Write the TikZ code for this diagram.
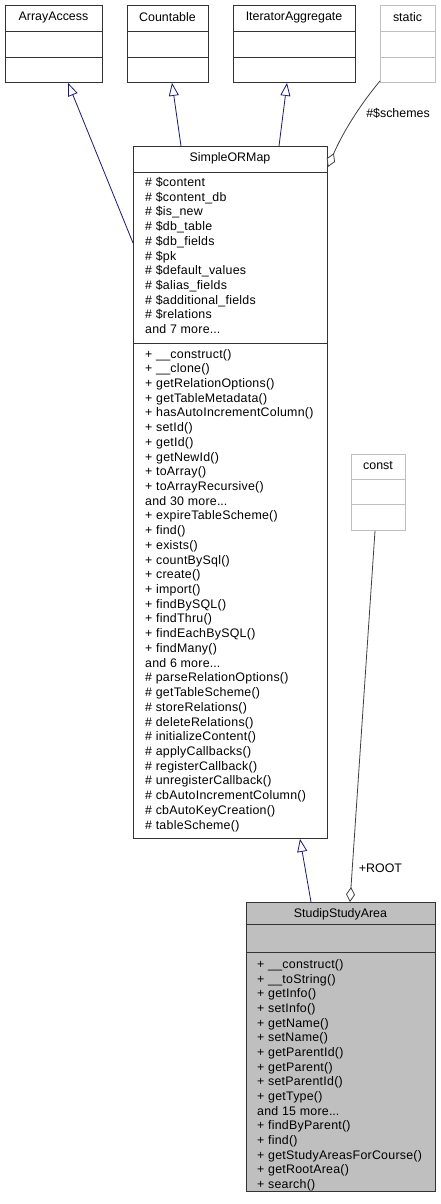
\documentclass[tikz,border=0pt]{standalone}
\usepackage{fontspec}
\setmainfont{Liberation Sans}
\newfontfamily\memberfont[LetterSpace=2]{Liberation Sans}
\usetikzlibrary{arrows.meta}
\definecolor{edgeblue}{HTML}{191970}
\definecolor{edgegrey}{HTML}{404040}
\definecolor{boxgrey}{HTML}{BFBFBF}
\definecolor{lightline}{HTML}{BFBFBF}
\newcommand\mydots{.\kern0pt.\kern0pt.}
\tikzset{
  cls/.style={draw=black!80, line width=0.9pt, inner sep=0pt, anchor=north west},
  ghost/.style={draw=lightline, line width=0.9pt, inner sep=0pt, anchor=north west},
  divider/.style={draw=black!80, line width=0.9pt},
  ghostdiv/.style={draw=lightline, line width=0.9pt},
  ttl/.style={inner sep=0pt, anchor=center},
  member/.style={inner sep=0pt, anchor=base west, font=\memberfont\fontsize{12.4}{14}\selectfont},
  lbl/.style={inner sep=0pt, anchor=center},
  inh/.style={draw=edgeblue, line width=0.8pt, -{Triangle[length=13pt,width=10pt,fill=white]}},
  agg/.style={draw=edgegrey, line width=0.8pt, -{Diamond[length=15pt,width=9pt,fill=white]}}
}
\begin{document}
\begin{tikzpicture}[x=1pt,y=-1pt,font=\fontsize{12.4}{14}\selectfont]
\useasboundingbox (0,0) rectangle (441,1204);

% ArrayAccess
\node[cls, minimum width=97pt, minimum height=77pt] (aa) at (5,5) {};
\draw[divider] (5,31) -- (102,31);
\draw[divider] (5,57) -- (102,57);
\node[ttl] (aat) at (53.5,17.5) {ArrayAccess};

% Countable
\node[cls, minimum width=81pt, minimum height=77pt] (cnt) at (127,5) {};
\draw[divider] (127,31) -- (208,31);
\draw[divider] (127,57) -- (208,57);
\node[ttl] (cntt) at (167.5,17.5) {Countable};

% IteratorAggregate
\node[cls, minimum width=122pt, minimum height=77pt] (ia) at (233,5) {};
\draw[divider] (233,31) -- (355,31);
\draw[divider] (233,57) -- (355,57);
\node[ttl] (iat) at (294,17.5) {IteratorAggregate};

% static
\node[ghost, minimum width=55pt, minimum height=77pt] (st) at (380,5) {};
\draw[ghostdiv] (380,31) -- (435,31);
\draw[ghostdiv] (380,57) -- (435,57);
\node[ttl] (stt) at (407.5,17.5) {static};

% SimpleORMap
\node[cls, minimum width=194pt, minimum height=692pt] (som) at (133,146) {};
\draw[divider] (133,172) -- (327,172);
\draw[divider] (133,343) -- (327,343);
\node[ttl] (somt) at (230,158.5) {SimpleORMap};
\foreach \t [count=\i] in {\# \$content, \# \$content\_db, \# \$is\_new, \# \$db\_table, \# \$db\_fields, \# \$pk, \# \$default\_values, \# \$alias\_fields, \# \$additional\_fields, \# \$relations, and 7 more\mydots}
  \node[member] (soma\i) at (145,{186.5+14.7*(\i-1)}) {\t};
\foreach \t [count=\i] in {+ \_\_construct(), + \_\_clone(), + getRelationOptions(), + getTableMetadata(), + hasAutoIncrementColumn(), + setId(), + getId(), + getNewId(), + toArray(), + toArrayRecursive(), and 30 more\mydots, + expireTableScheme(), + find(), + exists(), + countBySql(), + create(), + import(), + findBySQL(), + findThru(), + findEachBySQL(), + findMany(), and 6 more\mydots, \# parseRelationOptions(), \# getTableScheme(), \# storeRelations(), \# deleteRelations(), \# initializeContent(), \# applyCallbacks(), \# registerCallback(), \# unregisterCallback(), \# cbAutoIncrementColumn(), \# cbAutoKeyCreation(), \# tableScheme()}
  \node[member] (somm\i) at (145,{358+14.72*(\i-1)}) {\t};

% const
\node[ghost, minimum width=54pt, minimum height=76pt] (cst) at (351,454) {};
\draw[ghostdiv] (351,479) -- (405,479);
\draw[ghostdiv] (351,504) -- (405,504);
\node[ttl] (cstt) at (378,466) {const};

% StudipStudyArea
\node[cls, fill=boxgrey, minimum width=189pt, minimum height=289pt] (ssa) at (246,902) {};
\draw[divider] (246,924) -- (435,924);
\draw[divider] (246,952) -- (435,952);
\node[ttl] (ssat) at (340.5,914) {StudipStudyArea};
\foreach \t [count=\i] in {+ \_\_construct(), + \_\_toString(), + getInfo(), + setInfo(), + getName(), + setName(), + getParentId(), + getParent(), + setParentId(), + getType(), and 15 more\mydots, + findByParent(), + find(), + getStudyAreasForCourse(), + getRootArea(), + search()}
  \node[member] (ssam\i) at (257,{968.5+14.67*(\i-1)}) {\t};

% inheritance edges
\draw[inh] ([yshift=-97pt]som.north west) -- ([xshift=63pt]aa.south west);
\draw[inh] ([xshift=48pt]som.north west) -- ([xshift=45pt]cnt.south west);
\draw[inh] ([xshift=146pt]som.north west) -- ([xshift=54pt]ia.south west);
\draw[inh] ([xshift=65pt]ssa.north west) -- ([xshift=167pt]som.south west);

% aggregation edges
\draw[agg] ([yshift=2pt]st.south west) .. controls (360,105) and (343,132) .. ([yshift=-21pt]som.north east);
\draw[agg] ([xshift=24pt]cst.south west) -- ([xshift=104pt]ssa.north west);

% labels
\node[lbl] (lsch) at (398,113) {\#\$schemes};
\node[lbl] (lroot) at (380.5,868) {+ROOT};
\end{tikzpicture}
\end{document}
